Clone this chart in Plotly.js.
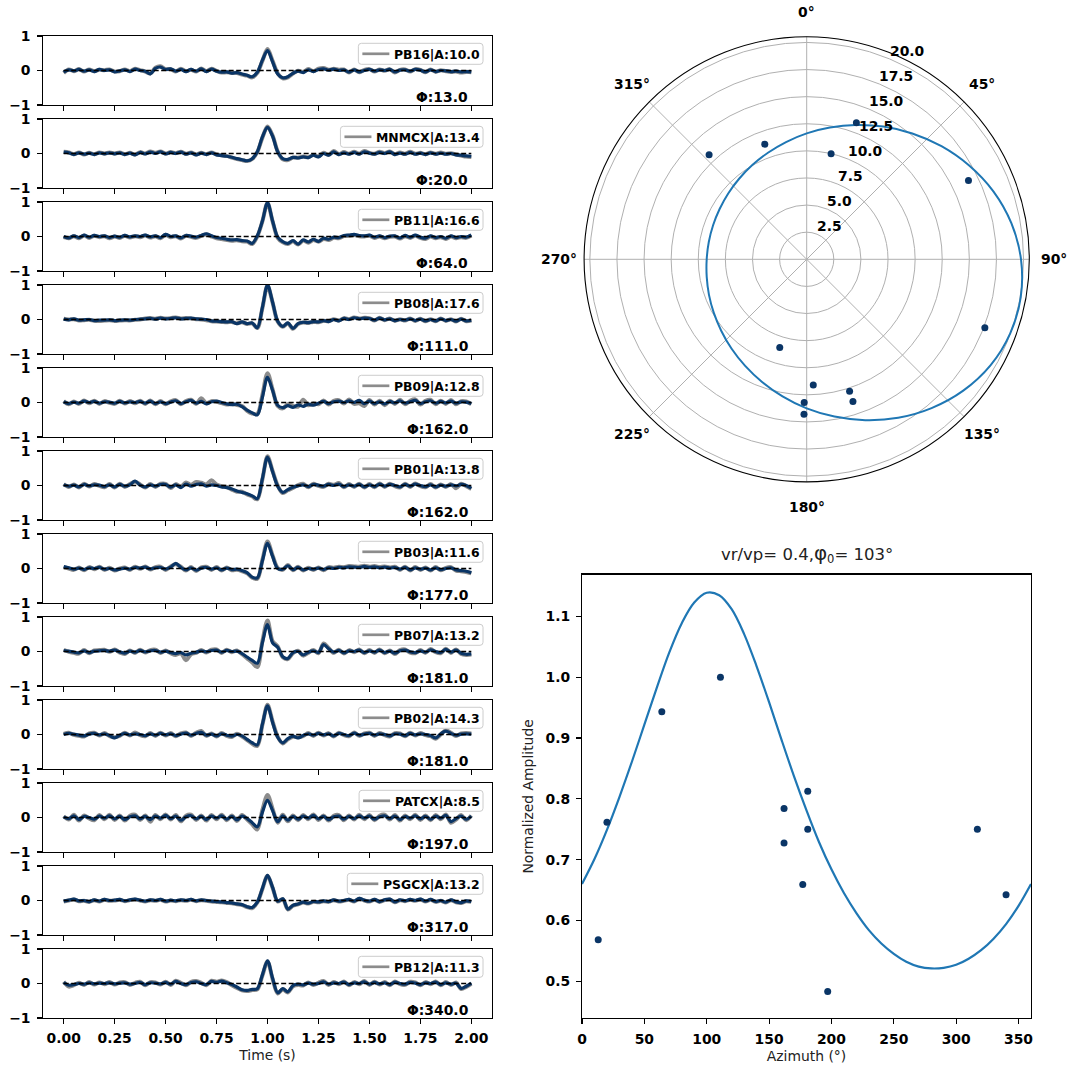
<!DOCTYPE html>
<html>
<head>
<meta charset="utf-8">
<script src="https://cdn.plot.ly/plotly-3.0.1.min.js"></script>
<style>
  html, body { margin: 0; padding: 0; background: #ffffff; }
  #chart { width: 1073px; height: 1072px; }
</style>
</head>
<body>
<div id="chart"></div>
<script>
// Station names, peak amplitudes and source-to-station azimuths (degrees)
const STATIONS = ['PB16', 'MNMCX', 'PB11', 'PB08', 'PB09', 'PB01', 'PB03', 'PB07', 'PB02', 'PATCX', 'PSGCX', 'PB12'];
const AMPLITUDES = [10.0, 13.4, 16.6, 17.6, 12.8, 13.8, 11.6, 13.2, 14.3, 8.5, 13.2, 11.3];
const AZIMUTHS = [13, 20, 64, 111, 162, 162, 177, 181, 181, 197, 317, 340];

// Waveform sampling (s)
const TIME_START = 0.0;
const TIME_STEP = 0.025;
const TIME_TICKS = [0, 0.25, 0.5, 0.75, 1.0, 1.25, 1.5, 1.75, 2.0];

// Stacked (reference) waveforms, normalised, one per station
const STACK_PB16 = [
  -0.05, 0.02, -0.01, 0.03, -0.02, 0.02, -0.03, 0.03, 0.00, 0.02,
  -0.04, -0.01, 0.02, -0.03, 0.04, 0.00, -0.02, -0.10, 0.06, 0.10,
  0.03, 0.05, -0.02, 0.03, -0.03, 0.03, -0.02, 0.05, -0.03, 0.04,
  -0.02, -0.05, -0.04, -0.08, -0.06, -0.10, -0.14, -0.18, -0.05, 0.30,
  0.58, 0.25, -0.10, -0.21, -0.18, -0.08, -0.02, -0.06, 0.02, -0.03,
  0.03, 0.05, 0.01, 0.04, 0.00, 0.02, -0.05, 0.02, -0.04, 0.00,
  0.03, -0.02, 0.02, 0.00, 0.03, -0.04, 0.01, 0.02, -0.02, 0.03,
  0.01, -0.04, 0.02, -0.03, 0.00, -0.01, -0.03, -0.02, -0.04, -0.03,
  -0.04];
const STACK_MNMCX = [
  0.04, 0.02, -0.03, 0.02, -0.02, 0.01, -0.03, 0.02, -0.01, 0.02,
  -0.01, 0.02, -0.03, 0.01, -0.04, 0.03, -0.01, 0.04, 0.00, 0.05,
  -0.01, 0.03, 0.00, 0.04, -0.02, 0.02, -0.04, 0.01, -0.03, 0.02,
  -0.04, -0.06, -0.08, -0.11, -0.15, -0.18, -0.21, -0.15, 0.05, 0.48,
  0.76, 0.50, 0.05, -0.15, -0.17, -0.11, -0.13, -0.10, -0.12, -0.05,
  -0.10, 0.00, -0.05, 0.05, -0.03, 0.02, -0.02, 0.03, -0.02, 0.05,
  0.01, -0.02, 0.03, 0.00, 0.05, -0.03, 0.01, -0.02, 0.03, -0.02,
  0.01, -0.03, 0.02, -0.02, 0.01, -0.02, 0.00, -0.04, -0.05, -0.07,
  -0.08];
const STACK_PB11 = [
  0.00, -0.04, 0.02, -0.03, 0.04, -0.02, 0.03, 0.00, 0.02, -0.03,
  0.01, -0.02, 0.03, -0.01, 0.02, 0.00, 0.04, -0.01, 0.02, -0.03,
  0.06, 0.00, 0.02, -0.04, 0.03, 0.01, -0.02, 0.03, 0.08, 0.02,
  -0.03, -0.05, -0.08, -0.10, -0.09, -0.12, -0.13, -0.20, 0.02, 0.45,
  0.98, 0.45, -0.02, -0.15, -0.20, -0.12, -0.22, -0.10, -0.16, -0.08,
  -0.14, -0.05, -0.08, -0.02, -0.03, 0.03, 0.04, 0.06, 0.03, 0.02,
  0.04, -0.02, 0.02, -0.03, 0.01, 0.02, -0.04, 0.03, -0.02, 0.04,
  -0.02, -0.05, 0.02, -0.03, 0.00, -0.05, 0.02, -0.03, 0.00, -0.02,
  0.05];
const STACK_PB08 = [
  0.01, -0.01, 0.02, -0.02, -0.01, 0.00, -0.03, -0.02, -0.02, -0.01,
  -0.03, -0.02, -0.01, -0.02, 0.00, 0.01, 0.02, 0.03, 0.01, 0.04,
  0.02, 0.03, 0.05, 0.02, 0.03, 0.04, 0.02, 0.01, 0.00, -0.04,
  -0.05, -0.06, -0.07, -0.06, -0.12, -0.07, -0.12, -0.10, -0.24, 0.35,
  1.00, 0.50, -0.05, -0.20, -0.10, -0.26, -0.12, -0.08, -0.09, -0.06,
  -0.07, -0.03, -0.06, 0.00, -0.04, 0.03, 0.00, 0.05, 0.02, 0.04,
  0.03, -0.02, 0.04, -0.01, 0.02, -0.03, 0.00, -0.02, 0.02, -0.03,
  0.01, -0.04, 0.00, -0.04, 0.02, -0.03, 0.00, -0.05, 0.01, -0.04,
  -0.02];
const STACK_PB09 = [
  0.02, -0.03, 0.01, -0.02, 0.04, 0.00, 0.03, -0.02, 0.02, 0.01,
  -0.02, 0.03, -0.01, 0.02, 0.00, 0.03, -0.02, 0.04, -0.03, 0.02,
  -0.03, 0.01, 0.05, -0.03, 0.02, 0.06, -0.02, 0.03, -0.04, 0.02,
  0.04, 0.00, -0.04, -0.06, -0.05, -0.12, -0.22, -0.30, -0.36, 0.15,
  0.73, 0.35, -0.08, -0.15, -0.09, -0.14, -0.07, -0.11, -0.05, -0.08,
  -0.02, 0.03, -0.03, 0.02, 0.04, 0.00, 0.05, 0.00, 0.06, -0.03,
  0.04, -0.03, 0.02, -0.04, 0.03, -0.01, 0.05, -0.02, 0.02, 0.06,
  -0.03, 0.02, 0.05, -0.02, 0.03, -0.01, 0.04, -0.02, 0.02, 0.01,
  -0.03];
const STACK_PB01 = [
  0.02, -0.02, 0.01, -0.04, 0.03, -0.01, 0.02, 0.01, -0.03, 0.02,
  -0.04, 0.03, -0.02, 0.02, 0.13, 0.01, -0.04, 0.02, -0.02, 0.03,
  0.03, -0.05, 0.02, -0.06, 0.04, -0.02, 0.03, 0.05, -0.02, 0.02,
  0.00, -0.04, -0.06, -0.10, -0.16, -0.20, -0.24, -0.30, -0.38, 0.20,
  0.82, 0.40, -0.02, -0.20, -0.12, -0.05, -0.01, 0.02, -0.03, 0.03,
  0.01, -0.02, 0.03, 0.00, 0.04, -0.03, 0.02, -0.02, 0.03, -0.04,
  0.02, -0.03, 0.04, -0.02, 0.03, 0.00, -0.04, 0.03, -0.02, 0.04,
  0.00, -0.03, 0.02, -0.04, 0.01, -0.02, 0.02, -0.01, 0.03, 0.00,
  -0.08];
const STACK_PB03 = [
  0.06, 0.02, -0.02, 0.01, -0.03, 0.02, 0.00, 0.03, -0.02, 0.00,
  -0.04, -0.02, 0.01, -0.02, 0.03, 0.01, 0.04, -0.01, 0.02, 0.03,
  -0.02, 0.04, 0.15, 0.03, -0.04, 0.02, -0.05, 0.01, 0.03, -0.02,
  0.02, -0.04, 0.01, -0.03, -0.02, -0.06, -0.12, -0.25, -0.27, 0.22,
  0.73, 0.35, 0.00, -0.02, 0.08, -0.03, 0.03, -0.04, 0.00, -0.02,
  0.01, -0.03, 0.02, 0.00, 0.03, 0.02, 0.05, 0.04, 0.03, 0.06,
  0.03, 0.05, 0.02, 0.04, 0.01, 0.03, -0.02, 0.03, -0.04, 0.02,
  -0.02, 0.01, -0.04, 0.02, -0.03, 0.00, 0.02, -0.04, -0.06, -0.08,
  -0.12];
const STACK_PB07 = [
  0.03, 0.01, -0.02, -0.04, 0.02, -0.03, 0.01, 0.02, 0.03, 0.01,
  0.04, -0.01, -0.05, 0.01, -0.02, 0.03, -0.01, 0.02, 0.03, -0.02,
  0.01, -0.03, -0.06, -0.03, -0.10, -0.05, -0.02, 0.02, -0.01, 0.03,
  0.04, -0.02, 0.03, 0.00, 0.01, -0.06, -0.16, -0.26, -0.34, 0.25,
  0.78, 0.25, 0.12, -0.15, -0.20, -0.03, 0.00, -0.10, -0.02, 0.02,
  -0.03, 0.20, 0.08, -0.02, 0.03, -0.04, 0.02, 0.00, 0.04, -0.03,
  0.02, -0.02, 0.04, -0.03, 0.01, -0.05, 0.02, 0.04, -0.01, -0.03,
  0.02, -0.02, 0.05, 0.00, -0.03, 0.06, -0.02, 0.04, -0.05, -0.08,
  -0.07];
const STACK_PB02 = [
  0.00, 0.03, 0.01, -0.02, -0.04, 0.01, 0.03, -0.01, 0.02, -0.03,
  -0.10, -0.02, 0.03, -0.01, 0.02, 0.00, -0.03, 0.02, -0.02, 0.03,
  -0.01, 0.02, -0.03, 0.01, 0.04, -0.02, 0.03, 0.06, -0.02, 0.01,
  -0.04, 0.02, -0.02, -0.05, 0.00, -0.04, -0.14, -0.24, -0.30, 0.30,
  0.83, 0.35, -0.08, -0.24, -0.12, -0.05, -0.10, -0.03, 0.02, -0.02,
  0.03, -0.01, 0.02, -0.04, 0.03, 0.00, -0.03, 0.04, -0.02, 0.01,
  0.03, -0.02, 0.02, 0.00, -0.04, 0.02, 0.01, -0.03, 0.03, -0.01,
  0.02, 0.00, -0.03, -0.10, 0.02, 0.10, 0.03, -0.02, 0.01, 0.02,
  0.01];
const STACK_PATCX = [
  0.02, -0.03, 0.05, -0.06, 0.03, 0.00, -0.05, 0.04, -0.02, 0.05,
  -0.04, 0.03, -0.06, 0.02, 0.05, -0.04, 0.03, -0.06, 0.04, -0.02,
  0.06, -0.03, 0.04, -0.08, 0.02, 0.05, -0.04, 0.03, -0.06, 0.04,
  -0.02, 0.05, -0.05, 0.03, -0.07, 0.04, -0.03, -0.15, -0.27, 0.15,
  0.50, 0.20, -0.12, 0.05, -0.08, 0.03, -0.05, 0.04, -0.02, 0.06,
  -0.04, 0.03, -0.06, 0.02, 0.04, -0.05, 0.03, -0.03, 0.05, -0.02,
  0.04, -0.05, 0.02, 0.05, -0.03, 0.04, -0.06, 0.03, -0.02, 0.05,
  -0.04, 0.03, -0.05, 0.04, -0.02, 0.06, -0.12, -0.03, 0.04, -0.05,
  0.04];
const STACK_PSGCX = [
  -0.02, 0.01, 0.04, -0.01, 0.00, -0.03, 0.02, -0.02, 0.03, 0.00,
  0.01, 0.03, -0.01, 0.02, 0.04, 0.01, -0.02, 0.02, 0.00, 0.03,
  -0.02, 0.01, -0.01, 0.02, 0.00, 0.03, -0.01, 0.02, 0.00, -0.02,
  -0.03, -0.04, -0.06, -0.07, -0.10, -0.12, -0.18, -0.20, -0.05, 0.35,
  0.73, 0.38, -0.02, 0.05, -0.25, -0.14, -0.10, -0.05, -0.08, -0.03,
  -0.04, -0.01, -0.03, 0.02, -0.02, 0.00, 0.03, -0.02, 0.06, 0.01,
  -0.02, 0.03, -0.03, 0.02, 0.04, -0.04, 0.02, -0.01, 0.03, 0.00,
  0.04, -0.02, 0.03, -0.03, 0.00, -0.05, 0.02, -0.04, -0.06, -0.01,
  -0.03];
const STACK_PB12 = [
  0.03, -0.05, -0.03, 0.00, -0.02, 0.02, -0.01, 0.01, 0.00, 0.02,
  -0.01, 0.01, 0.02, -0.02, 0.00, 0.03, -0.03, 0.02, 0.01, -0.01,
  0.03, -0.02, 0.06, 0.00, -0.03, 0.03, 0.05, 0.00, -0.03, 0.06,
  0.03, 0.07, 0.02, -0.03, -0.10, -0.18, -0.20, -0.17, -0.15, 0.25,
  0.66, 0.15, -0.27, -0.15, -0.24, -0.06, -0.02, -0.04, 0.01, -0.02,
  0.00, 0.05, -0.02, 0.02, 0.00, 0.04, -0.03, 0.02, 0.00, 0.05,
  -0.02, 0.03, -0.01, 0.02, -0.03, 0.04, 0.00, -0.02, 0.03, 0.01,
  -0.03, 0.02, 0.00, 0.04, -0.03, 0.02, -0.02, 0.01, -0.14, -0.08,
  0.01];

// Individual station records, normalised
const RECORD_PB16 = [
  -0.07, 0.03, -0.02, 0.04, -0.03, 0.03, -0.02, 0.02, 0.01, 0.03,
  -0.03, -0.02, 0.03, -0.02, 0.05, 0.01, -0.03, -0.09, 0.08, 0.12,
  0.04, 0.04, -0.03, 0.05, -0.02, 0.02, -0.03, 0.06, -0.02, 0.05,
  -0.01, -0.06, -0.05, -0.07, -0.07, -0.12, -0.15, -0.20, -0.07, 0.28,
  0.62, 0.28, -0.08, -0.23, -0.20, -0.09, -0.01, -0.04, 0.04, -0.02,
  0.05, 0.07, 0.02, 0.05, 0.02, 0.03, -0.06, 0.03, -0.05, 0.02,
  0.04, -0.03, 0.03, -0.01, 0.04, -0.06, 0.02, 0.03, -0.03, 0.04,
  0.02, -0.05, 0.03, -0.04, 0.01, -0.02, -0.04, -0.03, -0.06, -0.04,
  -0.05];
const RECORD_MNMCX = [
  0.05, 0.03, -0.02, 0.03, -0.03, 0.02, -0.02, 0.03, 0.00, 0.03,
  0.00, 0.03, -0.02, 0.02, -0.03, 0.04, 0.00, 0.06, 0.02, 0.06,
  0.00, 0.04, 0.01, 0.05, -0.01, 0.03, -0.03, 0.02, -0.02, 0.03,
  -0.03, -0.05, -0.07, -0.12, -0.16, -0.19, -0.22, -0.16, 0.04, 0.46,
  0.78, 0.52, 0.06, -0.17, -0.19, -0.12, -0.12, -0.09, -0.11, -0.04,
  -0.08, 0.02, -0.04, 0.07, -0.02, 0.04, -0.01, 0.05, -0.01, 0.07,
  0.02, -0.01, 0.05, 0.01, 0.06, -0.02, 0.03, -0.01, 0.05, -0.01,
  0.02, -0.02, 0.03, -0.01, 0.03, -0.01, 0.01, -0.03, -0.06, -0.09,
  -0.10];
const RECORD_PB11 = [
  -0.02, -0.05, 0.01, -0.05, 0.03, -0.04, 0.02, -0.02, 0.01, -0.05,
  0.00, -0.04, 0.02, -0.03, 0.01, -0.02, 0.03, -0.03, 0.01, -0.05,
  0.05, -0.02, 0.01, -0.06, 0.02, -0.01, -0.04, 0.02, 0.06, 0.00,
  -0.05, -0.07, -0.10, -0.12, -0.11, -0.14, -0.15, -0.22, 0.00, 0.44,
  0.97, 0.44, -0.04, -0.17, -0.22, -0.14, -0.23, -0.12, -0.18, -0.10,
  -0.15, -0.07, -0.10, -0.04, -0.05, 0.01, 0.02, 0.04, 0.01, 0.00,
  0.02, -0.04, 0.00, -0.05, -0.01, 0.00, -0.06, 0.01, -0.04, 0.02,
  -0.04, -0.07, 0.00, -0.05, -0.02, -0.07, 0.00, -0.05, -0.02, -0.04,
  0.03];
const RECORD_PB08 = [
  0.02, 0.00, 0.01, -0.03, -0.02, -0.01, -0.04, -0.04, -0.03, -0.02,
  -0.04, -0.03, -0.02, -0.03, -0.01, 0.00, 0.03, 0.04, 0.02, 0.05,
  0.03, 0.04, 0.06, 0.03, 0.04, 0.03, 0.01, 0.00, -0.02, -0.05,
  -0.06, -0.07, -0.08, -0.07, -0.11, -0.08, -0.13, -0.11, -0.25, 0.33,
  0.98, 0.49, -0.06, -0.21, -0.11, -0.27, -0.13, -0.09, -0.10, -0.07,
  -0.08, -0.04, -0.05, 0.01, -0.03, 0.04, 0.01, 0.06, 0.03, 0.05,
  0.04, -0.03, 0.05, -0.02, 0.03, -0.04, 0.01, -0.03, 0.03, -0.04,
  0.02, -0.05, 0.01, -0.05, 0.03, -0.04, 0.01, -0.06, 0.02, -0.05,
  -0.03];
const RECORD_PB09 = [
  0.04, -0.05, 0.03, -0.04, 0.06, -0.02, 0.05, -0.04, 0.04, -0.01,
  -0.04, 0.05, -0.03, 0.04, -0.02, 0.05, -0.04, 0.06, -0.05, 0.04,
  -0.05, 0.03, 0.07, -0.05, 0.04, 0.08, -0.04, 0.12, -0.02, 0.04,
  0.02, -0.02, -0.06, -0.04, -0.07, -0.10, -0.24, -0.32, -0.33, 0.22,
  0.85, 0.38, -0.10, -0.17, -0.05, -0.10, -0.12, 0.08, -0.08, -0.02,
  -0.05, 0.06, -0.06, 0.05, 0.07, -0.03, 0.09, -0.04, -0.02, -0.10,
  0.07, -0.06, 0.05, -0.08, 0.05, -0.04, 0.08, -0.05, 0.05, 0.09,
  -0.06, 0.05, 0.08, -0.05, 0.05, -0.04, 0.07, -0.05, 0.04, 0.03,
  -0.05];
const RECORD_PB01 = [
  0.04, -0.04, 0.03, -0.06, 0.05, -0.03, 0.04, -0.01, -0.05, 0.04,
  -0.06, 0.05, -0.04, 0.04, 0.11, 0.03, -0.06, 0.04, -0.04, 0.05,
  0.05, -0.07, 0.04, -0.03, 0.09, 0.02, 0.10, 0.08, 0.03, 0.15,
  0.03, -0.02, -0.04, -0.12, -0.18, -0.18, -0.26, -0.32, -0.40, 0.18,
  0.85, 0.42, 0.00, -0.22, -0.14, -0.07, 0.01, 0.05, -0.05, 0.05,
  -0.01, -0.04, 0.05, 0.02, 0.07, -0.05, 0.04, -0.04, 0.05, -0.06,
  0.04, -0.05, 0.06, -0.04, 0.05, -0.02, -0.06, 0.05, -0.04, 0.06,
  -0.02, -0.05, 0.04, -0.06, 0.03, -0.04, 0.04, -0.08, 0.05, -0.02,
  -0.10];
const RECORD_PB03 = [
  0.04, 0.00, -0.04, 0.03, -0.05, 0.04, -0.02, 0.05, -0.04, 0.02,
  -0.06, 0.00, 0.03, -0.04, 0.05, -0.01, 0.06, -0.03, 0.04, 0.05,
  -0.04, 0.06, 0.12, 0.05, -0.06, 0.04, -0.07, 0.03, 0.05, -0.04,
  0.04, -0.06, 0.03, -0.05, -0.04, -0.08, -0.14, -0.27, -0.30, 0.25,
  0.78, 0.38, 0.02, -0.04, 0.10, -0.05, 0.05, -0.06, 0.02, -0.04,
  0.03, -0.05, 0.04, 0.02, 0.05, 0.04, 0.07, 0.06, 0.05, 0.08,
  0.05, 0.07, 0.04, 0.06, 0.03, 0.05, -0.04, 0.05, -0.06, 0.04,
  -0.04, 0.03, -0.06, 0.04, -0.05, 0.02, 0.04, -0.06, -0.08, -0.10,
  -0.14];
const RECORD_PB07 = [
  0.05, -0.01, -0.04, -0.06, 0.04, -0.05, 0.03, 0.04, 0.05, -0.01,
  0.06, -0.03, -0.07, 0.03, -0.04, 0.05, -0.03, 0.04, 0.05, -0.04,
  0.03, -0.05, -0.10, -0.05, -0.25, -0.08, -0.04, 0.04, -0.03, 0.05,
  0.06, -0.04, 0.05, -0.02, 0.03, -0.08, -0.20, -0.32, -0.45, 0.30,
  0.90, 0.30, 0.15, -0.17, -0.22, -0.05, 0.02, -0.12, -0.04, 0.04,
  -0.05, 0.23, 0.10, -0.04, 0.05, -0.06, 0.04, -0.02, 0.06, -0.05,
  0.04, -0.04, 0.06, -0.05, 0.03, -0.07, 0.04, 0.06, -0.03, -0.05,
  0.04, -0.04, 0.07, -0.02, -0.05, 0.08, -0.04, 0.06, -0.07, -0.10,
  -0.09];
const RECORD_PB02 = [
  0.02, 0.05, -0.01, -0.04, -0.06, 0.03, 0.05, -0.03, 0.04, -0.05,
  -0.08, -0.04, 0.05, -0.03, 0.06, -0.02, -0.05, 0.04, -0.04, 0.05,
  -0.03, 0.04, -0.05, 0.03, 0.06, -0.04, 0.05, 0.10, -0.04, 0.03,
  -0.06, 0.04, -0.04, -0.07, 0.02, -0.06, -0.16, -0.27, -0.33, 0.28,
  0.86, 0.38, -0.06, -0.26, -0.14, -0.07, -0.08, -0.05, 0.04, -0.04,
  0.05, -0.03, 0.04, -0.06, 0.05, -0.02, -0.05, 0.06, -0.04, 0.03,
  0.05, -0.04, 0.04, -0.02, -0.06, 0.04, 0.03, -0.05, 0.05, -0.03,
  0.04, -0.02, -0.05, -0.12, 0.00, 0.12, 0.05, -0.04, 0.03, 0.04,
  0.03];
const RECORD_PATCX = [
  0.04, -0.06, 0.08, -0.09, 0.06, -0.03, -0.08, 0.07, -0.05, 0.08,
  -0.07, 0.06, -0.09, 0.05, 0.08, -0.07, 0.06, -0.12, 0.07, -0.05,
  0.09, -0.06, 0.07, -0.11, 0.05, 0.08, -0.07, 0.06, -0.09, 0.07,
  -0.05, 0.08, -0.08, 0.06, -0.10, 0.07, -0.06, -0.20, -0.35, 0.22,
  0.65, 0.25, -0.15, 0.08, -0.11, 0.06, -0.08, 0.07, -0.05, 0.09,
  -0.07, 0.06, -0.09, 0.05, 0.07, -0.08, 0.06, -0.06, 0.08, -0.05,
  0.07, -0.08, 0.05, 0.08, -0.06, 0.07, -0.09, 0.06, -0.05, 0.08,
  -0.07, 0.06, -0.08, 0.07, -0.05, 0.09, -0.15, -0.06, 0.07, -0.08,
  0.06];
const RECORD_PSGCX = [
  -0.03, 0.00, 0.03, -0.02, -0.01, -0.04, 0.01, -0.03, 0.02, -0.01,
  0.00, 0.02, -0.02, 0.01, 0.03, 0.00, -0.03, 0.01, -0.01, 0.02,
  -0.03, 0.00, -0.02, 0.01, -0.01, 0.02, -0.02, 0.01, -0.01, -0.03,
  -0.04, -0.05, -0.07, -0.08, -0.11, -0.13, -0.19, -0.22, -0.06, 0.33,
  0.72, 0.37, -0.03, 0.04, -0.26, -0.15, -0.11, -0.06, -0.09, -0.04,
  -0.05, -0.02, -0.04, 0.01, -0.03, -0.01, 0.02, -0.03, 0.05, 0.00,
  -0.03, 0.02, -0.04, 0.01, 0.03, -0.05, 0.01, -0.02, 0.02, -0.01,
  0.03, -0.03, 0.02, -0.04, -0.01, -0.06, 0.01, -0.05, -0.07, -0.02,
  -0.04];
const RECORD_PB12 = [
  0.05, -0.09, -0.05, 0.02, -0.04, 0.04, -0.03, 0.03, -0.02, 0.04,
  -0.03, 0.03, 0.04, -0.04, 0.02, 0.05, -0.05, 0.04, 0.03, -0.03,
  0.05, -0.04, 0.08, 0.02, -0.05, 0.05, 0.07, 0.02, -0.05, 0.08,
  0.05, 0.09, 0.04, -0.05, -0.13, -0.20, -0.22, -0.19, -0.17, 0.23,
  0.64, 0.13, -0.29, -0.17, -0.26, -0.08, -0.04, -0.06, 0.03, -0.04,
  0.02, 0.07, -0.04, 0.04, -0.02, 0.06, -0.05, 0.04, -0.02, 0.07,
  -0.04, 0.05, -0.03, 0.04, -0.05, 0.06, -0.02, -0.04, 0.05, 0.03,
  -0.05, 0.04, -0.02, 0.06, -0.05, 0.04, -0.04, 0.03, -0.16, -0.10,
  -0.01];

const STACKS = [STACK_PB16, STACK_MNMCX, STACK_PB11, STACK_PB08, STACK_PB09, STACK_PB01,
                STACK_PB03, STACK_PB07, STACK_PB02, STACK_PATCX, STACK_PSGCX, STACK_PB12];
const RECORDS = [RECORD_PB16, RECORD_MNMCX, RECORD_PB11, RECORD_PB08, RECORD_PB09, RECORD_PB01,
                 RECORD_PB03, RECORD_PB07, RECORD_PB02, RECORD_PATCX, RECORD_PSGCX, RECORD_PB12];

// Directivity fit: normalised amplitude versus azimuth, every 10 degrees from 0 to 360
const VR_VP = 0.4;
const PHI_0 = 103;
const FIT_AZ_START = 0;
const FIT_AZ_STEP = 10;
const FIT_CURVE = [
  0.660, 0.701, 0.749, 0.803, 0.861, 0.922, 0.983, 1.041, 1.089, 1.123,
  1.139, 1.135, 1.112, 1.071, 1.018, 0.959, 0.897, 0.837, 0.781, 0.729,
  0.684, 0.645, 0.612, 0.584, 0.562, 0.545, 0.532, 0.524, 0.521, 0.522,
  0.527, 0.537, 0.551, 0.570, 0.594, 0.624, 0.660];

// Polar grid ticks
const RADIAL_TICKS = [2.5, 5, 7.5, 10, 12.5, 15, 17.5, 20];
const ANGLE_TICKS = [0, 45, 90, 135, 180, 225, 270, 315];

// ---------------------------------------------------------------------------
const W = 1073, H = 1072;
const FONT = 'DejaVu Sans';
const DARK = '#0a3566';
const GREY = '#8c8c8c';
const FIT_BLUE = '#1f77b4';
const fx = px => px / W;
const fy = px => 1 - px / H;
const rad = d => d * Math.PI / 180;

const maxAmp = Math.max(...AMPLITUDES);
const normAmp = AMPLITUDES.map(a => a / maxAmp);
const timeEnd = TIME_START + (STACKS[0].length - 1) * TIME_STEP;

const tickFont = { family: FONT, size: 13.9, color: 'black', weight: 'bold' };

// text measurement for the per-panel legend boxes
const measureCtx = document.createElement('canvas').getContext('2d');
const LEGEND_FONT_PX = 12.4;
measureCtx.font = `bold ${LEGEND_FONT_PX}px "DejaVu Sans"`;
const textWidth = s => measureCtx.measureText(s).width;

// rounded rectangle path in paper fractions
function roundedRectPath(x0, y0, x1, y1, r) {
  const P = (x, y) => `${fx(x).toFixed(5)},${fy(y).toFixed(5)}`;
  return `M${P(x0 + r, y0)} L${P(x1 - r, y0)} Q${P(x1, y0)} ${P(x1, y0 + r)} ` +
         `L${P(x1, y1 - r)} Q${P(x1, y1)} ${P(x1 - r, y1)} L${P(x0 + r, y1)} ` +
         `Q${P(x0, y1)} ${P(x0, y1 - r)} L${P(x0, y0 + r)} Q${P(x0, y0)} ${P(x0 + r, y0)} Z`;
}

const data = [];
const layout = {
  width: W, height: H,
  margin: { l: 0, r: 0, t: 0, b: 0, pad: 0 },
  paper_bgcolor: 'white', plot_bgcolor: 'white',
  font: { family: FONT, color: 'black' },
  showlegend: false,
  shapes: [], annotations: []
};

// Waveform panels
const PANEL_LEFT = 43.3, PANEL_RIGHT = 491.7;
const PANEL_TOP0 = 36, PANEL_PITCH = 83, PANEL_H = 69;
const X_RANGE = [-0.1, 2.1], Y_RANGE = [-1, 1];

STATIONS.forEach((sta, i) => {
  const sfx = i === 0 ? '' : String(i + 1);
  const top = PANEL_TOP0 + i * PANEL_PITCH;
  const bottom = top + PANEL_H;
  const last = i === STATIONS.length - 1;

  // every panel carries time labels; the panel below hides all but their top edge
  const xa = {
    domain: [fx(PANEL_LEFT), fx(PANEL_RIGHT)],
    anchor: 'y' + sfx,
    range: X_RANGE,
    tickmode: 'array', tickvals: TIME_TICKS, tickformat: '.2f',
    ticks: 'outside', ticklen: 4.9, tickwidth: 1.1, tickcolor: 'black',
    showticklabels: true, tickfont: tickFont, ticklabelstandoff: last ? 2 : 1,
    showline: true, mirror: true, linecolor: 'black', linewidth: 1.1,
    showgrid: false, zeroline: false
  };
  if (last) xa.title = { text: 'Time (s)', font: { family: FONT, size: 13.9, color: '#222' }, standoff: 5 };
  layout['xaxis' + sfx] = xa;
  layout['yaxis' + sfx] = {
    domain: [fy(bottom), fy(top)],
    anchor: 'x' + sfx,
    range: Y_RANGE,
    tickmode: 'array', tickvals: [-1, 0, 1],
    ticks: 'outside', ticklen: 4.9, tickwidth: 1.1, tickcolor: 'black',
    tickfont: tickFont, ticklabelstandoff: 4,
    showline: true, mirror: true, linecolor: 'black', linewidth: 1.1,
    showgrid: false, zeroline: false
  };

  // opaque panel face, drawn inside this panel under its own traces
  if (i > 0) {
    layout.shapes.push({
      type: 'rect', xref: 'x' + sfx, yref: 'y' + sfx,
      x0: X_RANGE[0], x1: X_RANGE[1], y0: Y_RANGE[0], y1: Y_RANGE[1],
      fillcolor: 'white', line: { width: 0 }, layer: 'below'
    });
  }

  data.push({
    type: 'scatter', mode: 'lines',
    x0: TIME_START, dx: TIME_STEP, y: RECORDS[i],
    xaxis: 'x' + sfx, yaxis: 'y' + sfx,
    line: { color: GREY, width: 4, shape: 'spline', smoothing: 0.9 },
    showlegend: false, hoverinfo: 'skip'
  });
  data.push({
    type: 'scatter', mode: 'lines',
    x0: TIME_START, dx: TIME_STEP, y: STACKS[i],
    xaxis: 'x' + sfx, yaxis: 'y' + sfx,
    line: { color: DARK, width: 3.2, shape: 'spline', smoothing: 0.9 },
    showlegend: false, hoverinfo: 'skip'
  });

  layout.shapes.push({
    type: 'line', xref: 'x' + sfx, yref: 'y' + sfx,
    x0: TIME_START, x1: timeEnd, y0: 0, y1: 0,
    line: { color: 'black', width: 1.4, dash: '5px,2.5px' }, layer: 'above'
  });

  // legend box: grey sample line + "station|A:amplitude"
  const label = `${sta}|A:${AMPLITUDES[i].toFixed(1)}`;
  const textRight = 480;
  const tw = textWidth(label);
  const boxL = textRight - tw - 36, boxR = 483;
  const boxT = top + 7.3, boxB = top + 28.3;
  const midY = (boxT + boxB) / 2;
  layout.shapes.push({
    type: 'path', xref: 'paper', yref: 'paper',
    path: roundedRectPath(boxL, boxT, boxR, boxB, 3),
    fillcolor: 'rgba(255,255,255,0.8)', line: { color: '#cccccc', width: 1 }, layer: 'above'
  });
  layout.shapes.push({
    type: 'line', xref: 'paper', yref: 'paper',
    x0: fx(boxL + 4), x1: fx(boxL + 31), y0: fy(midY), y1: fy(midY),
    line: { color: GREY, width: 2.7 }, layer: 'above'
  });
  layout.annotations.push({
    xref: 'paper', yref: 'paper', x: fx(textRight), y: fy(midY + 0.5),
    xanchor: 'right', yanchor: 'middle', showarrow: false,
    borderpad: 0, borderwidth: 0,
    text: label,
    font: { family: FONT, size: LEGEND_FONT_PX, color: 'black', weight: 'bold' }
  });

  layout.annotations.push({
    xref: 'paper', yref: 'paper', x: fx(468), y: fy(top + 61),
    xanchor: 'right', yanchor: 'middle', showarrow: false,
    borderpad: 0, borderwidth: 0,
    text: `Φ:${AZIMUTHS[i].toFixed(1)}`,
    font: { family: FONT, size: 13.9, color: 'black', weight: 'bold' }
  });
});

// Polar view: amplitude against azimuth (clockwise from north)
const POLAR_CX = 806.7, POLAR_CY = 259.3, POLAR_R = 222.6;
const R_MAX = 20.53;
const R_LABEL_ANGLE = 22.5;      // radial labels sit along this azimuth
const THETA_LABEL_PAD = 247.5;   // distance of angle labels from the centre (px)
layout.polar = {
  domain: {
    x: [fx(POLAR_CX - POLAR_R), fx(POLAR_CX + POLAR_R)],
    y: [fy(POLAR_CY + POLAR_R), fy(POLAR_CY - POLAR_R)]
  },
  bgcolor: 'white',
  angularaxis: {
    rotation: 90, direction: 'clockwise',
    tickmode: 'array', tickvals: ANGLE_TICKS, ticks: '', showticklabels: false,
    showline: true, linecolor: 'black', linewidth: 1.1,
    showgrid: true, gridcolor: '#b0b0b0', gridwidth: 1
  },
  radialaxis: {
    range: [0, R_MAX], angle: 90 - R_LABEL_ANGLE,
    tickmode: 'array', tickvals: RADIAL_TICKS, ticks: '', showticklabels: false,
    showline: false, showgrid: true, gridcolor: '#b0b0b0', gridwidth: 1
  }
};
ANGLE_TICKS.forEach(a => {
  layout.annotations.push({
    xref: 'paper', yref: 'paper',
    x: fx(POLAR_CX + THETA_LABEL_PAD * Math.sin(rad(a))),
    y: fy(POLAR_CY - THETA_LABEL_PAD * Math.cos(rad(a))),
    xanchor: 'center', yanchor: 'middle', showarrow: false,
    borderpad: 0, borderwidth: 0,
    text: a + '°', font: tickFont
  });
});
RADIAL_TICKS.forEach(r => {
  const rp = r / R_MAX * POLAR_R;
  layout.annotations.push({
    xref: 'paper', yref: 'paper',
    x: fx(POLAR_CX + rp * Math.sin(rad(R_LABEL_ANGLE))),
    y: fy(POLAR_CY - rp * Math.cos(rad(R_LABEL_ANGLE))),
    xanchor: 'left', yanchor: 'bottom', showarrow: false,
    borderpad: 0, borderwidth: 0,
    text: r.toFixed(1), font: tickFont
  });
});
data.push({
  type: 'scatterpolar', subplot: 'polar', mode: 'lines',
  r: FIT_CURVE.map(v => v * maxAmp), theta0: FIT_AZ_START, dtheta: FIT_AZ_STEP,
  line: { color: FIT_BLUE, width: 2, shape: 'spline' },
  showlegend: false, hoverinfo: 'skip'
});
data.push({
  type: 'scatterpolar', subplot: 'polar', mode: 'markers',
  r: AMPLITUDES, theta: AZIMUTHS,
  marker: { color: DARK, size: 7 },
  showlegend: false, hoverinfo: 'skip'
});

// Normalised amplitude versus azimuth with the directivity fit
const AZ_L = 582, AZ_R = 1031, AZ_T = 574.5, AZ_B = 1018.3;
layout.xaxis13 = {
  domain: [fx(AZ_L), fx(AZ_R)], anchor: 'y13',
  range: [0, 360], dtick: 50, tick0: 0,
  ticks: 'outside', ticklen: 4.9, tickwidth: 1.1, tickcolor: 'black',
  tickfont: tickFont, ticklabelstandoff: 3,
  showline: true, mirror: true, linecolor: 'black', linewidth: 1.1,
  showgrid: false, zeroline: false,
  title: { text: 'Azimuth (°)', font: { family: FONT, size: 13.9, color: '#222' }, standoff: 5 }
};
layout.yaxis13 = {
  domain: [fy(AZ_B), fy(AZ_T)], anchor: 'x13',
  range: [0.439, 1.169], dtick: 0.1, tick0: 0, tickformat: '.1f',
  ticks: 'outside', ticklen: 4.9, tickwidth: 1.1, tickcolor: 'black',
  tickfont: tickFont, ticklabelstandoff: 3,
  showline: true, mirror: true, linecolor: 'black', linewidth: 1.1,
  showgrid: false, zeroline: false,
  title: { text: 'Normalized Amplitude', font: { family: FONT, size: 13.9, color: '#222' }, standoff: 8 }
};
data.push({
  type: 'scatter', mode: 'lines',
  x0: FIT_AZ_START, dx: FIT_AZ_STEP, y: FIT_CURVE,
  xaxis: 'x13', yaxis: 'y13',
  line: { color: FIT_BLUE, width: 2.2, shape: 'spline' },
  showlegend: false, hoverinfo: 'skip'
});
data.push({
  type: 'scatter', mode: 'markers',
  x: AZIMUTHS, y: normAmp,
  xaxis: 'x13', yaxis: 'y13',
  marker: { color: DARK, size: 7 },
  showlegend: false, hoverinfo: 'skip'
});
layout.annotations.push({
  xref: 'paper', yref: 'paper', x: fx((AZ_L + AZ_R) / 2), y: fy(553),
  xanchor: 'center', yanchor: 'middle', showarrow: false,
  text: `vr/vp= ${VR_VP},<span style="font-size:20px">φ</span><sub>0</sub>= ${PHI_0}°`,
  font: { family: FONT, size: 16.5, color: '#222' }
});

Plotly.newPlot('chart', data, layout, { staticPlot: true, displayModeBar: false });
</script>
</body>
</html>
